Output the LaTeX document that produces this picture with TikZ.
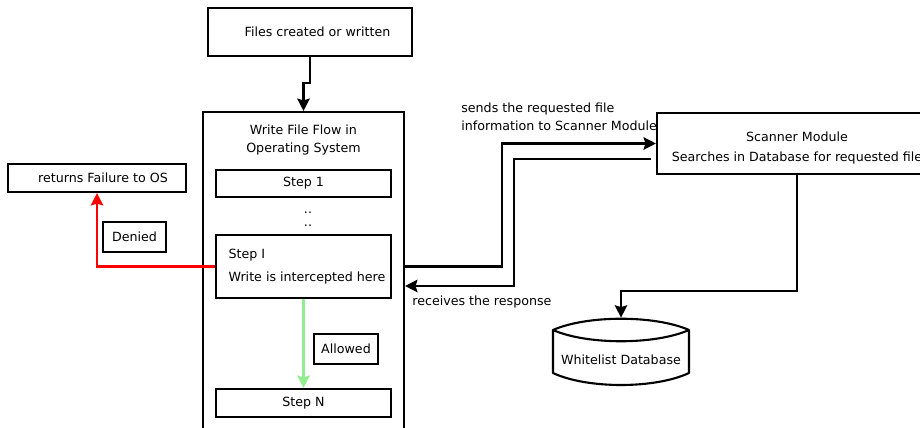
\documentclass[tikz,border=0pt]{standalone}
\usepackage{fontspec}
\setmainfont{DejaVu Sans}
\usetikzlibrary{arrows.meta,calc}
\definecolor{allowgreen}{RGB}{144,238,144}
\tikzset{
    box/.style={draw, line width=1.2pt, inner sep=0pt},
    flow/.style={line width=1.5pt, -{Stealth[length=7pt,width=7pt,inset=1pt]}},
    txt/.style={inner sep=0pt, align=left}
}
\begin{document}
\begin{tikzpicture}[x=0.02cm, y=-0.02cm, font=\fontsize{7.2}{10.2}\selectfont]
            \useasboundingbox (0,0) rectangle (920,428);

            % Source of the write
            \node[box, minimum width=40.8mm, minimum height=9.6mm] (files) at (310,32) {\hspace*{3mm}Files created or written};

            % Operating system flow
            \node[box, minimum width=40.2mm, minimum height=65.6mm] (os) at (303.5,276) {};
            \node[txt, align=center, anchor=north] (ostitle) at (303.5,125) {Write File Flow in\\Operating System};
            \node[box, minimum width=35mm, minimum height=5.4mm] (step1) at (303.5,183.5) {Step 1};
            \node[txt, align=center, font=\fontsize{7.2}{7.6}\selectfont] (dots) at (308,219) {..\\..};
            \node[box, align=left, minimum width=35mm, minimum height=12.6mm] (stepI) at (303.5,266.5)
                {\hspace*{1.4mm}Step I\\[2.8pt]\hspace*{1.4mm}Write is intercepted here};
            \node[box, minimum width=35mm, minimum height=5.6mm] (stepN) at (303.5,403) {Step N};
            \node[box, minimum width=12.8mm, minimum height=6mm] (allowed) at (346,349) {Allowed};

            % Denied path
            \node[box, minimum width=35.6mm, minimum height=5.6mm] (fail) at (97,178) {\hspace*{2.4mm}returns Failure to OS};
            \node[box, minimum width=12.6mm, minimum height=6mm] (denied) at (134.5,237) {Denied};

            % Scanner and database
            \node[box, minimum width=56mm, minimum height=12.2mm] (scanner) at (797,143.5) {};
            \node[txt, align=center, font=\fontsize{7.2}{11.3}\selectfont] (scannertxt) at (797,148) {Scanner Module\\Searches in Database for requested file};
            \node[minimum width=27.2mm, minimum height=16.8mm, inner sep=0pt] (db) at (621,360) {Whitelist Database};
            \draw[line width=1.2pt, line join=round]
                (553,330) .. controls (587,315) and (655,315) .. (689,330)
                .. controls (655,345) and (587,345) .. (553,330)
                -- (553,373) .. controls (587,389) and (655,389) .. (689,373) -- (689,330);

            % Connector labels
            \node[txt, anchor=west] (sendlbl) at (461,117) {sends the requested file\\information to Scanner Module};
            \node[txt, anchor=west] (recvlbl) at (412,302) {receives the response};

            % Connectors
            \coordinate (osout) at (os.east |- stepI.east);
            \coordinate (osin) at ($(osout)+(0,19.5)$);
            \coordinate (scanout) at ($(scanner.west)+(-5,15.5)$);
            \coordinate (dbin) at (621,291);
            \draw[flow] (files.south) -- ++(0,26) -| (os.north);
            \draw[flow] (osout) -- ++(97,0) |- (scanner.west);
            \draw[flow] (scanout) -- ++(-137,0) |- (osin);
            \draw[flow] (scanner.south) |- (dbin) -- (db.north);
            \draw[flow, red] (stepI.west) -| (fail.south);
            \draw[flow, allowgreen] (stepI.south) -- (stepN.north);
\end{tikzpicture}
\end{document}
